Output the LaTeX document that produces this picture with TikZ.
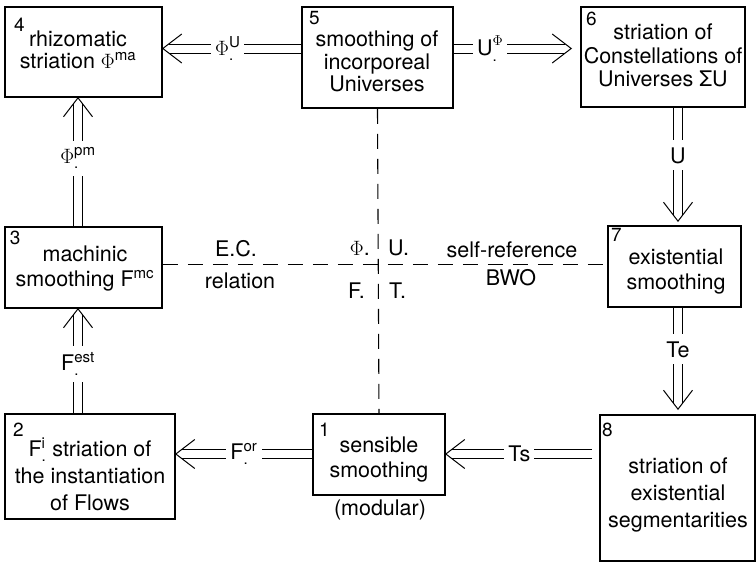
\documentclass[tikz,border=0pt]{standalone}
\usepackage{fontspec}
\usepackage{amsmath}
\setmainfont{TeX Gyre Heros}
\begin{document}
\begin{tikzpicture}[x=1pt,y=-1pt,
  box/.style={draw, line width=1.6pt, inner sep=0pt},
  txt/.style={align=center, inner sep=0pt, font=\fontsize{21.5}{#1}\selectfont},
  txt/.default=24,
  num/.style={anchor=base west, inner sep=0pt, font=\fontsize{19}{19}\selectfont},
  plain/.style={inner sep=0pt, font=\fontsize{21.5}{24}\selectfont},
  dbl/.style={double, double distance=8pt, line width=1pt},
  head/.style={line width=1pt},
  hlab/.style={fill=white, inner xsep=4pt, inner ysep=2pt, font=\fontsize{21.5}{24}\selectfont},
  vlab/.style={fill=white, inner xsep=2pt, inner ysep=7pt, font=\fontsize{21.5}{24}\selectfont},
  dsh/.style={line width=1.1pt, dash pattern=on 15pt off 10pt}
]
\useasboundingbox (0,0) rectangle (756,562);

% boxes
\node[box, minimum width=157pt, minimum height=90pt]  (n4) at (83.5,52) {};
\node[box, minimum width=151pt, minimum height=101pt] (n5) at (377.5,57.5) {};
\node[box, minimum width=164pt, minimum height=100pt] (n6) at (663,57) {};
\node[box, minimum width=157pt, minimum height=81pt]  (n3) at (83.5,267.5) {};
\node[box, minimum width=133pt, minimum height=81pt]  (n7) at (674.5,266.5) {};
\node[box, minimum width=170pt, minimum height=105pt] (n2) at (90,466.5) {};
\node[box, minimum width=132pt, minimum height=81pt]  (n1) at (379,454.5) {};
\node[box, minimum width=155pt, minimum height=146pt] (n8) at (677.5,488) {};

% box texts
\node[txt=21.7] (t4) at (78,49.75) {rhizomatic\\striation $\Phi^{\text{ma}}$};
\node[txt=22.5] (t5) at (377,61.75) {smoothing of\\incorporeal\\Universes};
\node[txt=23.5] (t6) at (663,55.75) {striation of\\Constellations of\\Universes ΣU};
\node[txt=25]   (t3) at (85,268.25) {machinic\\smoothing F$^{\text{mc}}$};
\node[txt=25]   (t7) at (676,272) {existential\\smoothing};
\node[txt=27]   (t2) at (90,474.5) {F$^{\text{i}}_{\text{.}}$ striation of\\the instantiation\\of Flows};
\node[txt=25]   (t1) at (379,460) {sensible\\smoothing};
\node[txt=27]   (t8) at (678,494.5) {striation of\\existential\\segmentarities};

% numbers
\node[num] (d4) at (14,31.7) {4};
\node[num] (d5) at (309,24) {5};
\node[num] (d6) at (586,25) {6};
\node[num] (d3) at (9.7,244) {3};
\node[num] (d7) at (611,241.7) {7};
\node[num] (d2) at (13,436.7) {2};
\node[num] (d1) at (319,436.7) {1};
\node[num] (d8) at (602,436.7) {8};

\node[plain, anchor=base] (mod) at (380,515) {(modular)};

% dashed axes
\coordinate (midrow) at (0,264.5);
\draw[dsh] (n5.south) -- (n1.north);
\draw[dsh] (n3.east |- midrow) -- (n7.west |- midrow);
\node[plain, anchor=base] (ec)  at (236,256.5) {E.C.};
\node[plain, anchor=base] (rel) at (240,288) {relation};
\node[plain, anchor=base] (sr)  at (512,257) {self-reference};
\node[plain, anchor=base] (bwo) at (511,285.5) {BWO};
\node[plain, anchor=base east] (qphi) at (370,255) {$\Phi$.};
\node[plain, anchor=base west] (qu)   at (388,255) {U.};
\node[plain, anchor=base east] (qf)   at (365,298) {F.};
\node[plain, anchor=base west] (qt)   at (389,298) {T.};

% rows / columns of the arrows
\coordinate (rowT) at (0,48.5);
\coordinate (rowB) at (0,454);
\coordinate (colL) at (78,0);
\coordinate (colR) at (678,0);

% tips
\coordinate (h4) at (n4.east |- rowT);
\coordinate (h6) at ([xshift=-9pt]n6.west |- rowT);
\coordinate (h4b) at (n4.south -| colL);
\coordinate (h3) at (n3.south -| colL);
\coordinate (h7) at ([yshift=4pt]n7.north -| colR);
\coordinate (h8) at ([yshift=5pt]n8.north -| colR);
\coordinate (h2) at (n2.east |- rowB);
\coordinate (h1) at (n1.east |- rowB);

% 5 -> 4
\draw[dbl, shorten >=6pt] (n5.west |- rowT) -- node[hlab, pos=0.53] (l54) {$\Phi^{\text{U}}_{\text{.}}$} (h4);
\draw[head] (h4) ++(19,-14.5) -- (h4) -- ++(19,14.5);
% 5 -> 6
\draw[dbl, shorten >=6pt] (n5.east |- rowT) -- node[hlab, pos=0.31] (l56) {$\text{U}^{\Phi}_{\text{.}}$} (h6);
\draw[head] (h6) ++(-19,-14.5) -- (h6) -- ++(-19,14.5);
% 3 -> 4
\draw[dbl, shorten >=6pt] (n3.north -| colL) -- node[vlab, pos=0.53] (l34) {$\Phi^{\text{pm}}_{\text{.}}$} (h4b);
\draw[head] (h4b) ++(-14.5,19) -- (h4b) -- ++(14.5,19);
% 2 -> 3
\draw[dbl, shorten >=6pt] (n2.north -| colL) -- node[vlab, pos=0.47] (l23) {F$^{\text{est}}_{\text{.}}$} (h3);
\draw[head] (h3) ++(-14.5,19) -- (h3) -- ++(14.5,19);
% 6 -> 7
\draw[dbl, shorten >=6pt] (n6.south -| colR) -- node[vlab, pos=0.42] (l67) {U} (h7);
\draw[head] (h7) ++(-14.5,-19) -- (h7) -- ++(14.5,-19);
% 7 -> 8
\draw[dbl, shorten >=6pt] (n7.south -| colR) -- node[vlab, pos=0.41] (l78) {Te} (h8);
\draw[head] (h8) ++(-14.5,-19) -- (h8) -- ++(14.5,-19);
% 1 -> 2
\draw[dbl, shorten >=6pt] (n1.west |- rowB) -- node[hlab, pos=0.5] (l12) {F$^{\text{or}}_{\text{.}}$} (h2);
\draw[head] (h2) ++(19,-14.5) -- (h2) -- ++(19,14.5);
% 8 -> 1
\draw[dbl, shorten >=6pt, shorten <=7pt] (n8.west |- rowB) -- node[hlab, pos=0.52] (l81) {Ts} (h1);
\draw[head] (h1) ++(19,-14.5) -- (h1) -- ++(19,14.5);
\end{tikzpicture}
\end{document}
